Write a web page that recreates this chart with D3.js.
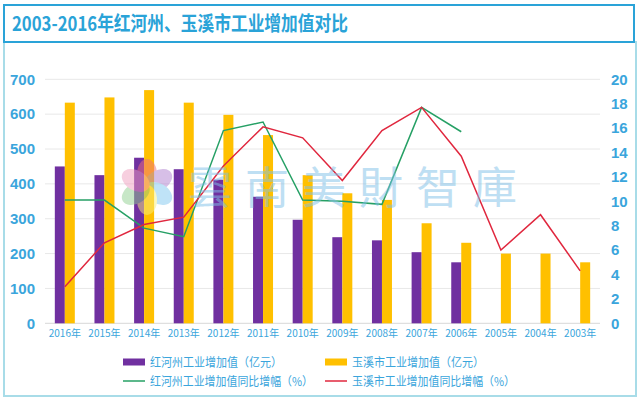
<!DOCTYPE html>
<html><head><meta charset="utf-8">
<script src="https://cdn.jsdelivr.net/npm/d3@7/dist/d3.min.js"></script>
<style>html,body{margin:0;padding:0;background:#fff;}svg{display:block;}</style>
</head><body>
<svg id="c" width="640" height="400"></svg>
<script>
const years = ["2016年","2015年","2014年","2013年","2012年","2011年","2010年","2009年","2008年","2007年","2006年","2005年","2004年","2003年"];
const honghe = [450,425,475,442,412,363,297,247,238,204,175,null,null,null];
const yuxi = [633,648,669,633,598,540,425,373,354,287,231,200,200,175];
const hongheGrowth = [10.1,10.1,7.8,7.1,15.8,16.5,10.1,10.0,9.75,17.7,15.7,null,null,null];
const yuxiGrowth = [3.0,6.6,8.1,8.7,12.9,16.1,15.2,11.7,15.8,17.7,13.7,6.0,8.9,4.3];
const leftTicks = [0,100,200,300,400,500,600,700];
const rightTicks = [0,2,4,6,8,10,12,14,16,18,20];
const title = "2003-2016年红河州、玉溪市工业增加值对比";
const legendNames = ["红河州工业增加值（亿元）","玉溪市工业增加值（亿元）","红河州工业增加值同比增幅（%）","玉溪市工业增加值同比增幅（%）"];
const watermark = ["雲","南","美","財","智","庫"];

const C = {purple:"#7030a0", yellow:"#ffc000", green:"#26a065", red:"#e0273e", blue:"#2aa3d8", text:"#3aa5dc"};
const svg = d3.select("#c");
const font = "'Noto Sans CJK SC','Noto Sans',sans-serif";

// frames
svg.append("rect").attr("x",4).attr("y",42).attr("width",632).attr("height",354)
  .attr("fill","none").attr("stroke","#a8dce8").attr("stroke-width",2);
svg.append("rect").attr("x",4).attr("y",5).attr("width",630).attr("height",37)
  .attr("fill","#fff").attr("stroke",C.blue).attr("stroke-width",2);
svg.append("text").attr("x",12).attr("y",31).attr("fill",C.blue)
  .attr("font-family",font).attr("font-weight","bold").attr("font-size",20)
  .attr("textLength",336).attr("lengthAdjust","spacingAndGlyphs").text(title);

const x0 = 45, x1 = 600, yTop = 79.3, yBot = 323.3;
const x = d3.scaleBand().domain(years).range([x0,x1]).paddingInner(0).paddingOuter(0);
const xs = d3.scaleBand().domain(["a","b"]).range([0,20]);
const yL = d3.scaleLinear().domain([0,700]).range([yBot,yTop]);
const yR = d3.scaleLinear().domain([0,20]).range([yBot,yTop]);

// grid
svg.append("g").selectAll("line").data(leftTicks).join("line")
  .attr("x1",x0).attr("x2",x1).attr("y1",d=>yL(d)).attr("y2",d=>yL(d))
  .attr("stroke",d=>d===0?"#d8d8d8":"#e8e8e8").attr("stroke-width",1);

// axes
const ax = svg.append("g").attr("transform",`translate(${x0-8},0)`)
  .call(d3.axisLeft(yL).tickValues(leftTicks).tickSize(0).tickPadding(2));
ax.select(".domain").remove();
ax.selectAll("text").attr("fill",C.text).attr("font-family","'Liberation Sans',Arial,sans-serif").attr("font-weight","bold").attr("font-size",15);

const ar = svg.append("g").attr("transform",`translate(${x1+11},0)`)
  .call(d3.axisRight(yR).tickValues(rightTicks).tickSize(0).tickPadding(0));
ar.select(".domain").remove();
ar.selectAll("text").attr("fill",C.text).attr("font-family","'Liberation Sans',Arial,sans-serif").attr("font-weight","bold").attr("font-size",15);

const axb = svg.append("g").attr("transform",`translate(0,${yBot+3})`)
  .call(d3.axisBottom(x).tickSize(0).tickPadding(4));
axb.select(".domain").remove();
axb.selectAll("text").attr("fill",C.text).attr("font-family",font).attr("font-size",10);

// bars
const bars = svg.append("g");
years.forEach((yr,i)=>{
  const bx = x(yr) + x.bandwidth()/2 - 10;
  if (honghe[i] != null)
    bars.append("rect").attr("x",bx+xs("a")).attr("width",xs.bandwidth())
      .attr("y",yL(honghe[i])).attr("height",yBot-yL(honghe[i])).attr("fill",C.purple);
  bars.append("rect").attr("x",bx+xs("b")).attr("width",xs.bandwidth())
    .attr("y",yL(yuxi[i])).attr("height",yBot-yL(yuxi[i])).attr("fill",C.yellow);
});

// lines
const cx = d => x(d) + x.bandwidth()/2;
const line = d3.line().defined(d=>d[1]!=null).x(d=>cx(d[0])).y(d=>yR(d[1]));
svg.append("path").datum(years.map((y,i)=>[y,hongheGrowth[i]]))
  .attr("d",line).attr("fill","none").attr("stroke",C.green).attr("stroke-width",1.5);
svg.append("path").datum(years.map((y,i)=>[y,yuxiGrowth[i]]))
  .attr("d",line).attr("fill","none").attr("stroke",C.red).attr("stroke-width",1.5);

// watermark (overlay)
const wm = svg.append("g").attr("opacity",0.5);
const petals = ["#f07080","#b080d0","#80c8f0","#f8f080","#90d090","#f0a0c0"];
petals.forEach((c,i)=>{
  const ang = i*60;
  wm.append("ellipse").attr("cx",0).attr("cy",-13).attr("rx",10).attr("ry",15)
    .attr("transform",`translate(147,187) rotate(${ang})`).attr("fill",c);
});
wm.selectAll("text").data(watermark).join("text")
  .attr("x",(d,i)=>210+i*57).attr("y",204).attr("text-anchor","middle")
  .attr("font-family","'Noto Sans CJK TC',sans-serif").attr("font-weight","normal").attr("font-size",44)
  .attr("fill","#7fc0e8").text(d=>d);

// legend
const lg = svg.append("g").attr("font-family",font).attr("font-size",12).attr("fill",C.text);
const lpos = [[123,362,"bar",C.purple,132],[325,362,"bar",C.yellow,132],[123,381,"line",C.green,163],[325,381,"line",C.red,163]];
lpos.forEach((p,i)=>{
  if (p[2]==="bar") lg.append("rect").attr("x",p[0]).attr("y",p[1]-3.5).attr("width",22).attr("height",7).attr("fill",p[3]);
  else lg.append("line").attr("x1",p[0]).attr("x2",p[0]+22).attr("y1",p[1]).attr("y2",p[1]).attr("stroke",p[3]).attr("stroke-width",1.5);
  lg.append("text").attr("x",p[0]+27).attr("y",p[1]+4.5).attr("fill",C.text)
    .attr("textLength",p[4]).attr("lengthAdjust","spacingAndGlyphs").text(legendNames[i]);
});
</script>
</body></html>
